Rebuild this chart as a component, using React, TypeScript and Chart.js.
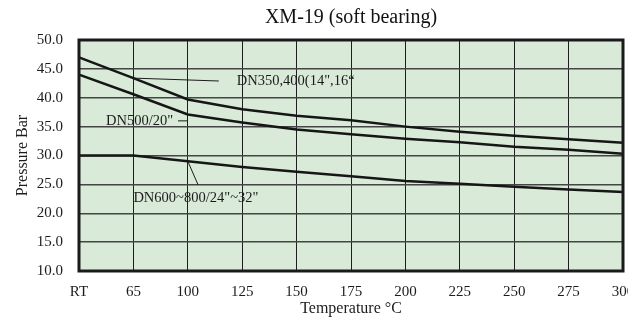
import React, { useEffect, useRef } from "react";
import { Chart, registerables } from "chart.js";

Chart.register(...registerables);

const categories = ["RT", "65", "100", "125", "150", "175", "200", "225", "250", "275", "300"];
const dn350 = [47.0, 43.4, 39.7, 38.0, 36.9, 36.1, 35.0, 34.1, 33.4, 32.8, 32.2];
const dn500 = [44.0, 40.6, 37.1, 35.7, 34.5, 33.7, 32.9, 32.3, 31.5, 31.0, 30.3];
const dn600 = [30.0, 30.0, 29.0, 28.0, 27.2, 26.4, 25.6, 25.1, 24.6, 24.1, 23.7];
const seriesNames = ["DN350,400(14\",16\u201C", "DN500/20\"", "DN600~800/24\"~32\""];

const titleText = "XM-19 (soft bearing)";
const xTitle = "Temperature \u00B0C";
const yTitle = "Pressure Bar";

// annotation anchors in data units (category index, pressure)
const annotations = [
  { text: seriesNames[0], at: [2.9, 42.9], align: "left", leader: [[1.0, 43.4], [2.57, 42.9]] },
  { text: seriesNames[1], at: [1.73, 36.0], align: "right", leader: [[1.82, 36.0], [2.0, 36.0]] },
  { text: seriesNames[2], at: [1.0, 22.6], align: "left", leader: [[2.0, 29.0], [2.19, 24.9]] },
];

const SERIF = "'Liberation Serif', 'DejaVu Serif', serif";
const INK = "#1c1c1c";

const decorPlugin = {
  id: "decor",
  beforeDraw(chart: any) {
    const { ctx, chartArea: a } = chart;
    ctx.save();
    ctx.fillStyle = "#d9ead8";
    ctx.fillRect(a.left, a.top, a.right - a.left, a.bottom - a.top);
    ctx.restore();
  },
  afterDatasetsDraw(chart: any) {
    const { ctx, chartArea: a, scales } = chart;
    const xs = scales.x;
    const ys = scales.y;
    ctx.save();
    ctx.strokeStyle = INK;
    ctx.fillStyle = INK;
    ctx.lineWidth = 1;
    ctx.font = `14.5px ${SERIF}`;
    ctx.textBaseline = "middle";
    for (const an of annotations) {
      ctx.beginPath();
      an.leader.forEach((p, i) => {
        const px = xs.getPixelForValue(p[0]);
        const py = ys.getPixelForValue(p[1]);
        if (i === 0) ctx.moveTo(px, py);
        else ctx.lineTo(px, py);
      });
      ctx.stroke();
      ctx.textAlign = an.align as CanvasTextAlign;
      ctx.fillText(an.text, xs.getPixelForValue(an.at[0]), ys.getPixelForValue(an.at[1]));
    }
    ctx.lineWidth = 3;
    ctx.strokeStyle = "#1a1a1a";
    ctx.strokeRect(a.left, a.top, a.right - a.left, a.bottom - a.top);
    ctx.restore();
  },
};

export default function App() {
  const ref = useRef<HTMLCanvasElement | null>(null);
  useEffect(() => {
    if (!ref.current) return;
    const mk = (data: number[]) => ({
      data,
      borderColor: "#161616",
      borderWidth: 2.5,
      pointRadius: 0,
      tension: 0,
      fill: false,
    });
    const chart = new Chart(ref.current, {
      type: "line",
      data: {
        labels: categories,
        datasets: [
          { label: seriesNames[0], ...mk(dn350) },
          { label: seriesNames[1], ...mk(dn500) },
          { label: seriesNames[2], ...mk(dn600) },
        ],
      },
      options: {
        responsive: false,
        animation: false,
        devicePixelRatio: 1,
        layout: { padding: { left: 0, right: 5, top: 0, bottom: 0 } },
        plugins: {
          legend: { display: false },
          tooltip: { enabled: false },
          title: {
            display: true,
            text: titleText,
            fullSize: false,
            color: "#111",
            font: { family: SERIF, size: 20, weight: "normal" },
            padding: { top: 6, bottom: 10 },
          },
        },
        scales: {
          x: {
            type: "category",
            offset: false,
            grid: { color: "#1e1e1e", lineWidth: 1, drawTicks: false },
            border: { display: false },
            ticks: {
              color: "#1c1c1c",
              font: { family: SERIF, size: 15 },
              padding: 12,
              maxRotation: 0,
              autoSkip: false,
            },
            title: {
              display: true,
              text: xTitle,
              color: "#1c1c1c",
              font: { family: SERIF, size: 16 },
              padding: { top: 0, bottom: 1 },
            },
            afterFit(s: any) {
              s.height = 48;
              s.paddingLeft = 0;
              s.paddingRight = 0;
            },
          },
          y: {
            min: 10,
            max: 50,
            grid: { color: "#454545", lineWidth: 1.4, drawTicks: false },
            border: { display: false },
            ticks: {
              stepSize: 5,
              color: "#1c1c1c",
              font: { family: SERIF, size: 15 },
              padding: 16,
              callback: (v: any) => Number(v).toFixed(1),
            },
            title: {
              display: true,
              text: yTitle,
              color: "#1c1c1c",
              font: { family: SERIF, size: 16 },
              padding: { top: 13, bottom: 0 },
            },
            afterFit(s: any) {
              s.width = 79;
              s.paddingTop = 0;
              s.paddingBottom = 0;
            },
          },
        },
      },
      plugins: [decorPlugin],
    });
    return () => chart.destroy();
  }, []);
  return (
    <div style={{ position: "fixed", left: 0, top: 0, width: 628, height: 319, overflow: "hidden", background: "#fff" }}>
      <canvas ref={ref} width={628} height={319} style={{ display: "block" }} />
    </div>
  );
}
